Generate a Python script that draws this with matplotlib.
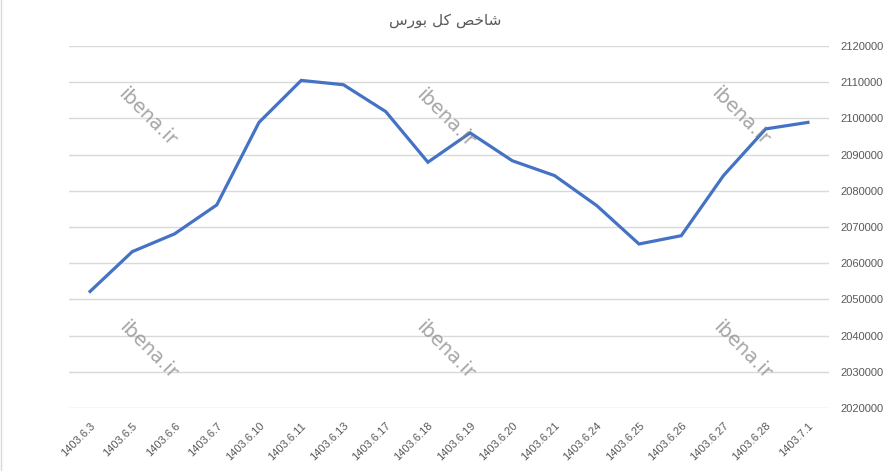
import numpy as np
import matplotlib
matplotlib.use("Agg")
import matplotlib.pyplot as plt
from matplotlib.lines import Line2D

# dates and index values
dates = ['1403.6.3', '1403.6.5', '1403.6.6', '1403.6.7', '1403.6.10', '1403.6.11',
         '1403.6.13', '1403.6.17', '1403.6.18', '1403.6.19', '1403.6.20', '1403.6.21',
         '1403.6.24', '1403.6.25', '1403.6.26', '1403.6.27', '1403.6.28', '1403.7.1']
values = [2052200, 2063200, 2068100, 2076100, 2098900, 2110500,
          2109300, 2101900, 2087900, 2096000, 2088300, 2084200,
          2075900, 2065300, 2067600, 2084200, 2097100, 2098900]
yticks = list(range(2020000, 2120001, 10000))

# title "شاخص کل بورس" in shaped presentation forms, visual order
title = '\uFEB1\uFEAD\uFEEE\uFE91 \uFEDE\uFB90 \uFEBA\uFEA7\uFE8E\uFEB7'

grey = '#595959'
plt.rcParams['font.family'] = ['Liberation Sans', 'DejaVu Sans']

fig = plt.figure(figsize=(8.9, 4.71), dpi=100)
ax = fig.add_axes([0.0775, 0.1338, 0.854, 0.7685])

x = np.arange(len(dates))
ax.plot(x, values, color='#4472C4', lw=2.3, solid_joinstyle='miter', zorder=3)

ax.set_xlim(-0.5, len(dates) - 0.5)
ax.set_ylim(yticks[0], yticks[-1])
ax.set_yticks(yticks)
ax.set_yticklabels([str(v) for v in yticks])
ax.yaxis.tick_right()
ax.grid(axis='y', color='#d9d9d9', lw=1)
ax.set_axisbelow(True)
for s in ax.spines.values():
    s.set_visible(False)
ax.tick_params(axis='y', length=0, pad=8, labelsize=8, labelcolor=grey)
ax.tick_params(axis='x', length=0, pad=9, labelsize=8, labelcolor=grey)
ax.set_xticks(x)
ax.set_xticklabels(dates, rotation=45, ha='right', rotation_mode='anchor')

fig.text(0.5, 0.957, title, ha='center', va='center', fontsize=11,
         color=grey, family=['DejaVu Sans'])

# watermark
for px, py in [(147, 117), (445, 118), (740, 116), (148, 350), (445, 350), (742, 350)]:
    fig.text(px / 890, 1 - py / 471, 'ibena.ir', rotation=-45, ha='center', va='center',
             fontsize=14, color='#808080', alpha=0.7, zorder=5, family=['DejaVu Sans'])

# faint frame edge on the left
fig.add_artist(Line2D([0.001, 0.001], [0, 1], color='#d9d9d9', lw=1, transform=fig.transFigure))

fig.savefig('out.png', dpi=100)
